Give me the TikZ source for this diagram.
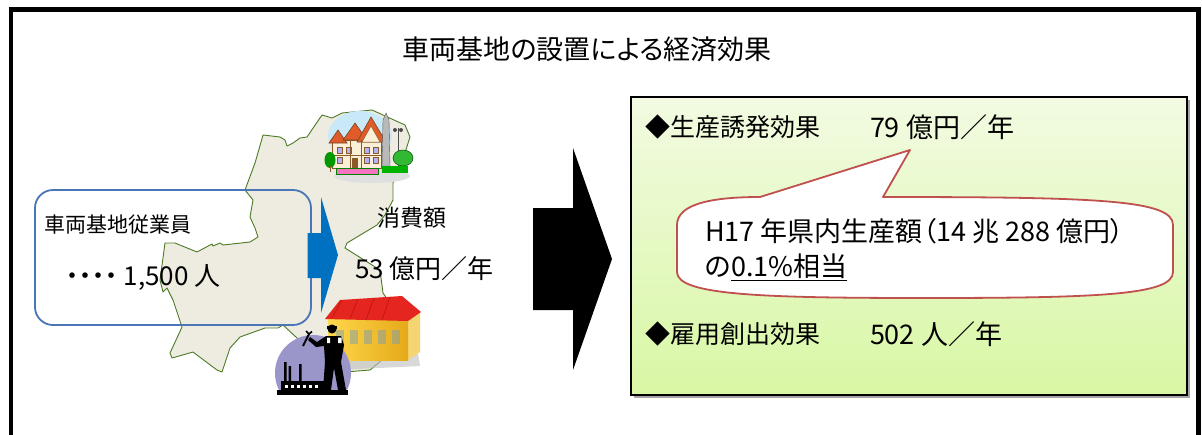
\documentclass[tikz,border=0pt]{standalone}
\usepackage{fontspec}
\newfontfamily\jp[RawFeature=+palt]{Noto Sans CJK JP}
\newcommand\fsz[1]{\fontsize{#1}{#1}\selectfont}
\definecolor{mapfill}{HTML}{EEECE1}
\definecolor{mapline}{HTML}{4E7A27}
\definecolor{boxblue}{HTML}{4A76B8}
\definecolor{arrowblue}{HTML}{0070C0}
\definecolor{calloutred}{HTML}{C0504D}
\definecolor{greentop}{HTML}{F2FBE2}
\definecolor{greenbot}{HTML}{D8F7A4}
\definecolor{roofred}{HTML}{E52620}
\definecolor{purplebg}{HTML}{9A96CA}
\definecolor{skyblue}{HTML}{C9E9F8}
\definecolor{housewall}{HTML}{FAF0D7}
\definecolor{timber}{HTML}{8B5A2B}
\definecolor{houseroof}{HTML}{E05A2A}
\tikzset{
  txt/.style={inner sep=0pt, outer sep=0pt, anchor=west, font=\jp},
  frameline/.style={line width=4.5pt},
  prefmap/.style={fill=mapfill, draw=mapline, line width=0.9pt, line join=round},
  staffbox/.style={draw=boxblue, line width=1.8pt, rounded corners=18pt},
  effectbox/.style={draw=black, line width=1.6pt, top color=greentop, bottom color=greenbot},
  callout/.style={draw=calloutred, line width=1.8pt, fill=white, line join=round},
}
\begin{document}
\begin{tikzpicture}[x=1pt,y=-1pt]
\useasboundingbox (0,0) rectangle (1202,434);
\fill[white] (0,0) rectangle (1202,434);

% outer frame, open at the bottom
\draw[frameline] (11,440) -- (11,9.5) -- (1198.5,9.5) -- (1198.5,440);

% title
\node[txt, anchor=center] (title) at (587,49) {\fsz{27}車両基地の設置による経済効果};

% prefecture outline
\draw[prefmap] (263,135) -- (280,137) -- (285,140) -- (287,146) -- (293,143) -- (300,138)
  -- (307,137) -- (322,115) -- (332,118) -- (342,113) -- (372,110) -- (405,125) -- (410,137)
  -- (402,162) -- (393,183) -- (393,200) -- (385,215) -- (377,225) -- (347,243) -- (345,248)
  -- (353,253) -- (380,270) -- (383,293) -- (398,315) -- (400,345) -- (370,370) -- (345,372)
  -- (320,350) -- (297,338) -- (283,325) -- (278,328) -- (265,328) -- (240,337) -- (230,348)
  -- (222,372) -- (217,370) -- (193,352) -- (172,358) -- (170,353) -- (182,327) -- (173,300)
  -- (167,288) -- (163,292) -- (160,280) -- (165,243) -- (175,243) -- (197,252) -- (212,244)
  -- (213,246) -- (220,243) -- (223,245) -- (250,242) -- (258,237) -- (255,228) -- (250,217)
  -- (253,200) -- (245,190) -- (255,163) -- cycle;

% staff box
\draw[staffbox] (35,190) rectangle (311,325);
\node[txt] (staff) at (44,225) {\fsz{21}車両基地従業員};
\node[txt] (staffnum) at (66,277) {\fsz{26}・・・・ 1,500 人};

% blue arrow
\coordinate (ba) at (307.5,255);
\fill[arrowblue] (ba) ++(0,-22) -- ++(13.5,0) -- ++(0,-36) -- (338,255) -- (321,313)
  -- (321,278) -- (307.5,278) -- cycle;

% town clip art
\begin{scope}
  \fill[skyblue] (360,136) ellipse [x radius=32, y radius=25];
  \fill[gray!25] (372,176) ellipse [x radius=38, y radius=7];
  \fill[housewall, draw=timber, line width=0.6pt] (332,168) -- (332,140) -- (381,140) -- (381,168) -- cycle;
  \fill[houseroof, draw=timber!80!black, line width=0.6pt] (329,143) -- (338,130) -- (347,143) -- cycle;
  \fill[houseroof, draw=timber!80!black, line width=0.6pt] (343,140) -- (355,123) -- (367,140) -- cycle;
  \fill[houseroof, draw=timber!80!black, line width=0.6pt] (357,142) -- (371,117) -- (386,142) -- cycle;
  \fill[housewall, draw=timber, line width=0.5pt] (362,142) -- (371,126) -- (380,142) -- cycle;
  \foreach \x in {337,346,364,373} \fill[blue!30, draw=timber, line width=0.4pt] (\x,147) rectangle ++(5,6);
  \foreach \x in {337,364,373} \fill[blue!30, draw=timber, line width=0.4pt] (\x,157) rectangle ++(5,6);
  \draw[timber, line width=0.5pt] (332,155) -- (381,155) (350,140) -- (350,168) (361,140) -- (361,168);
  \fill[timber] (352,158) rectangle (358,168);
  \fill[gray!55, draw=gray!70!black, line width=0.4pt] (383,120) -- (386,113) -- (389,120) -- (390,166) -- (382,166) -- cycle;
  \draw[gray!60!black, line width=0.8pt] (398,128) -- (398,166);
  \fill[gray!60!black] (395,130) circle (2) (401,130) circle (2);
  \fill[green!60!black] (330,160) ellipse [x radius=5.5, y radius=8];
  \draw[timber, line width=0.8pt] (330,166) -- (330,172);
  \fill[green!65!black!80, draw=green!30!black, line width=0.5pt] (403,158) ellipse [x radius=10, y radius=8];
  \fill[magenta!55, draw=green!50!black, line width=0.5pt] (336,168) rectangle (378,174);
  \fill[green!70!black] (382,166) rectangle (408,173);
\end{scope}

% warehouse clip art
\begin{scope}
  \fill[gray!50, opacity=0.6] (335,360) -- (418,354) -- (420,366) -- (338,370) -- cycle;
  \fill[orange!35!yellow!70!brown!60] (408,318) -- (420,312) -- (420,352) -- (408,360) -- cycle;
  \shade[left color=yellow!55!orange!70, right color=orange!45!yellow!60!brown] (328,318) rectangle (408,360);
  \foreach \x in {336,350,364,378,392} \fill[cyan!30!gray, opacity=0.5] (\x,330) rectangle ++(8,14);
  \fill[roofred] (325,319) -- (340,300) -- (402,296) -- (421,312) -- (408,321) -- cycle;
  \draw[red!60!black, opacity=0.4, line width=0.8pt] (342,300) -- (332,318) (358,299) -- (350,319)
    (374,298) -- (366,320) (390,297) -- (382,320);
\end{scope}

% worker and factory clip art
\begin{scope}
  \clip (270,325) rectangle (355,392);
  \fill[purplebg] (313,373) circle (38);
\end{scope}
\fill[black] (277,389.5) rectangle (348,395);
\fill[black] (281,381) rectangle (327,390);
\fill[black] (284,362) rectangle (286.5,382) (288.5,366) rectangle (291,382) (299,364) rectangle (301.5,382);
\foreach \x in {285,291,297,303,309,315} \fill[white] (\x,385) rectangle ++(2.5,2.5);
\fill[black] (323,390) -- (325,362) -- (324,346) -- (316,347) -- (308,340) -- (310,337)
  -- (317,342) -- (326,336) -- (341,336) -- (344,345) -- (341,362) -- (346,390) -- (338,390)
  -- (334,368) -- (331,390) -- cycle;
\fill[black] (332,329) circle (4.5);
\fill[black] (326.5,326) rectangle (337,328.5);
\fill[white] (327,337.5) rectangle (330,343) (338,337.5) rectangle (341.5,343);
\draw[black, line width=2pt] (303,346) -- (309,334);
\draw[black, line width=1.6pt] (306,331) -- (309,334) -- (312,331.5);

% consumption figures
\node[txt] (spendlabel) at (377,218) {\fsz{23}消費額};
\node[txt] (spendvalue) at (355,269) {\fsz{26}53 億円／年};

% black arrow
\coordinate (ka) at (533,259);
\fill[black] (ka) ++(0,-51) -- (573,208) -- (573,148) -- (612,259) -- (573,370) -- (573,310)
  -- (533,310) -- cycle;

% effects panel
\fill[gray!70] (634,100) rectangle (1190,398);
\draw[effectbox] (631,97) rectangle (1187,395);
\node[txt] (prodlabel) at (645,127) {\fsz{25}◆生産誘発効果};
\node[txt] (prodvalue) at (870,127) {\fsz{27}79 億円／年};

\draw[callout] (677,225) .. controls (677,203) and (715,197) .. (760,197) -- (910,150)
  -- (883,197) .. controls (1100,197) and (1173,200) .. (1173,225) -- (1173,272)
  .. controls (1173,295) and (1100,298) .. (925,298) .. controls (760,298) and (677,295)
  .. (677,272) -- cycle;
\node[txt] (share1) at (705,231) {\fsz{27}H17 年県内生産額（14 兆 288 億円）};
\node[txt] (share2) at (705,267) {\fsz{27}の\underline{0.1\%相当}};

\node[txt] (joblabel) at (645,334) {\fsz{25}◆雇用創出効果};
\node[txt] (jobvalue) at (870,334) {\fsz{27}502 人／年};
\end{tikzpicture}
\end{document}
